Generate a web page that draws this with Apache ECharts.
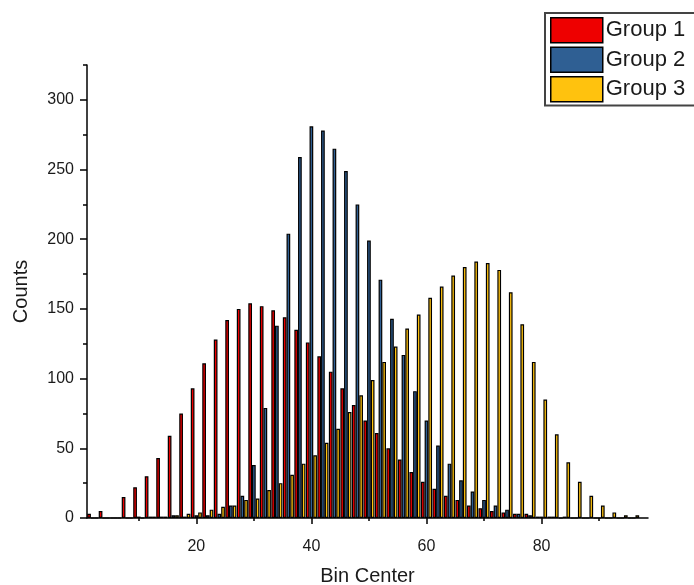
<!DOCTYPE html>
<html>
<head>
<meta charset="utf-8">
<script src="https://cdn.jsdelivr.net/npm/echarts@6/dist/echarts.min.js"></script>
<style>html,body{margin:0;padding:0;background:#fff}#c{width:694px;height:585px}</style>
</head>
<body>
<div id="c"></div>
<script>
// Bin centers
const binCenters = [2,4,6,8,10,12,14,16,18,20,22,24,26,28,30,32,34,36,38,40,42,44,46,48,50,52,54,56,58,60,62,64,66,68,70,72,74,76,78,80,82,84,86,88,90,92,94,96];
// Counts per bin
const group1 = [3,5,0,15,22,30,43,59,75,93,111,128,142,150,154,152,149,144,135,126,116,105,93,81,70,61,50,42,33,26,21,16,13,9,7,5,4,3,3,1,1,0,0,0,0,0,0,0];
const group2 = [0,0,0,0,1,1,1,2,1,2,2,3,9,16,38,79,138,204,259,281,278,265,249,225,199,171,143,117,91,70,52,39,27,19,13,9,6,3,2,1,1,1,0,0,0,0,0,0];
const group3 = [0,0,0,0,0,1,1,2,3,4,6,8,9,13,14,20,25,31,39,45,54,64,76,88,99,112,123,136,146,158,166,174,180,184,183,178,162,139,112,85,60,40,26,16,9,4,2,2];
const seriesNames = ['Group 1','Group 2','Group 3'];
const xMajorLabels = [20,40,60,80];
const xMinorTicks = [10,30,50,70,90];
const yMajorLabels = [0,50,100,150,200,250,300];
const yMinorTicks = [25,75,125,175,225,275,325];

const colors = ['#EE0000','#2F5F93','#FFC20E'];
const font = "'Liberation Sans', Arial, sans-serif";
const textColor = '#1a1a1a';
const X_MIN = 1, X_MAX = 98.5, Y_MIN = 0, Y_MAX = 325;

function pairs(vals){ return binCenters.map((c,i)=>[c, vals[i]]); }
const groups = [group1, group2, group3];

const chart = echarts.init(document.getElementById('c'), null, {renderer:'canvas'});
chart.setOption({
  animation:false,
  backgroundColor:'#fff',
  grid:{left:87, right:46, top:65, bottom:67, containLabel:false, outerBoundsMode:'none'},
  legend:{
    orient:'vertical', left:545, top:13,
    icon:'rect',
    itemWidth:52, itemHeight:25, itemGap:3,
    padding:[4,14,3,5],
    borderColor:'#444', borderWidth:2, backgroundColor:'#fff',
    itemStyle:{borderColor:'#000', borderWidth:1.5},
    textStyle:{fontFamily:font, fontSize:22, color:textColor, padding:[0,0,0,-2], lineHeight:26},
    data:seriesNames
  },
  xAxis:[{
    type:'value', min:X_MIN, max:X_MAX, position:'bottom',
    name:'Bin Center', nameLocation:'middle', nameGap:48,
    nameTextStyle:{fontFamily:font, fontSize:20, color:textColor},
    axisLine:{show:true, lineStyle:{color:'#000', width:1.5}},
    axisTick:{show:true, customValues:xMajorLabels, length:6, lineStyle:{color:'#000', width:1.5}},
    axisLabel:{customValues:xMajorLabels, fontFamily:font, fontSize:16, color:textColor, margin:21},
    splitLine:{show:false}
  },{
    type:'value', min:X_MIN, max:X_MAX, position:'bottom',
    axisLine:{show:false},
    axisTick:{show:true, customValues:xMinorTicks, length:3, lineStyle:{color:'#000', width:1.5}},
    axisLabel:{show:false},
    splitLine:{show:false}
  }],
  yAxis:[{
    type:'value', min:Y_MIN, max:Y_MAX, position:'left',
    name:'Counts', nameLocation:'middle', nameGap:56,
    nameTextStyle:{fontFamily:font, fontSize:20, color:textColor},
    axisLine:{show:true, lineStyle:{color:'#000', width:1.5}},
    axisTick:{show:true, customValues:yMajorLabels, length:7, lineStyle:{color:'#000', width:1.5}},
    axisLabel:{customValues:yMajorLabels, fontFamily:font, fontSize:16, color:textColor, margin:13},
    splitLine:{show:false}
  },{
    type:'value', min:Y_MIN, max:Y_MAX, position:'left',
    axisLine:{show:false},
    axisTick:{show:true, customValues:yMinorTicks, length:4, lineStyle:{color:'#000', width:1.5}},
    axisLabel:{show:false},
    splitLine:{show:false}
  }],
  series: groups.map((g,i)=>({
    name:seriesNames[i], type:'bar', xAxisIndex:0, yAxisIndex:0,
    data:pairs(g), barWidth:3.7, barGap:'0%',
    itemStyle:{color:colors[i], borderColor:'#000', borderWidth:1.2},
    emphasis:{disabled:true}
  }))
});
</script>
</body>
</html>
